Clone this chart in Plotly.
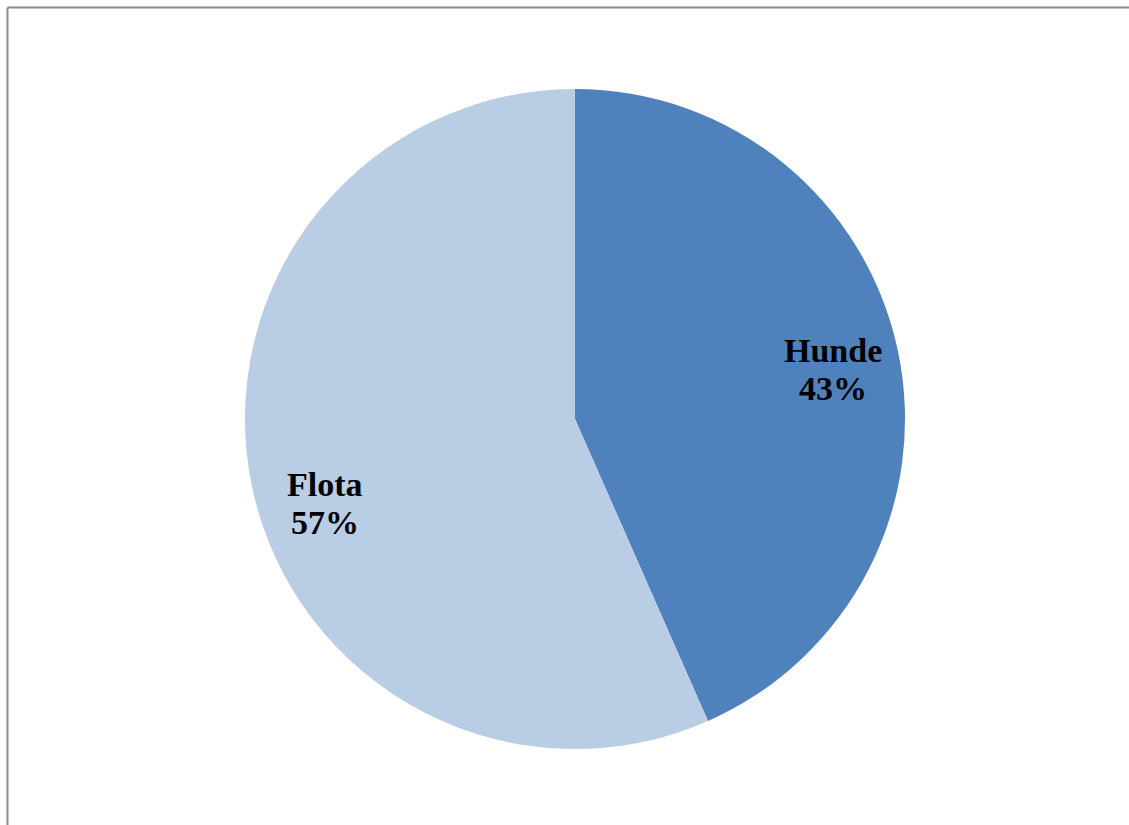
import math
import plotly.graph_objects as go

# Slice data
labels = ["Hunde", "Flota"]
values = [43.4, 56.6]
colors = ["#4F81BD", "#B9CDE5"]

W, H = 1129, 825
cx, cy, R = 575, 419, 330  # pie centre and radius in pixels
label_nudge = [(0, 5), (8, 30)]  # pixel nudges for the data labels
line_gap = 38  # distance between the two label lines

fig = go.Figure(go.Pie(
    labels=labels,
    values=values,
    sort=False,
    direction="clockwise",
    rotation=0,
    marker=dict(colors=colors, line=dict(width=0)),
    textinfo="none",
    hoverinfo="label+percent",
    showlegend=False,
    domain=dict(x=[(cx - R) / W, (cx + R) / W],
                y=[(H - cy - R) / H, (H - cy + R) / H]),
))

# Labels placed along each slice's bisector
total = sum(values)
font = dict(family="Liberation Serif", size=34, color="black")
annotations = []
acc = 0
for lab, v, (nx, ny) in zip(labels, values, label_nudge):
    mid = (acc + v / 2) / total * 2 * math.pi
    acc += v
    px = cx + 0.8 * R * math.sin(mid) + nx
    py = cy - 0.8 * R * math.cos(mid) + ny
    for txt, dy in ((f"<b>{lab}</b>", -line_gap / 2),
                    (f"<b>{round(v / total * 100)}%</b>", line_gap / 2)):
        annotations.append(dict(
            x=px / W, y=1 - (py + dy) / H, xref="paper", yref="paper",
            xanchor="center", yanchor="middle",
            text=txt, showarrow=False, font=font,
        ))

# Chart frame (top and left edges)
frame = dict(color="#8C8C8C", width=2)
shapes = [
    dict(type="line", xref="paper", yref="paper",
         x0=7.5 / W, x1=1, y0=1 - 7.5 / H, y1=1 - 7.5 / H, line=frame),
    dict(type="line", xref="paper", yref="paper",
         x0=7.5 / W, x1=7.5 / W, y0=1 - 7.5 / H, y1=0, line=frame),
]

fig.update_layout(
    width=W, height=H,
    margin=dict(l=0, r=0, t=0, b=0),
    paper_bgcolor="white",
    annotations=annotations,
    shapes=shapes,
)

fig.write_html("out.html")
